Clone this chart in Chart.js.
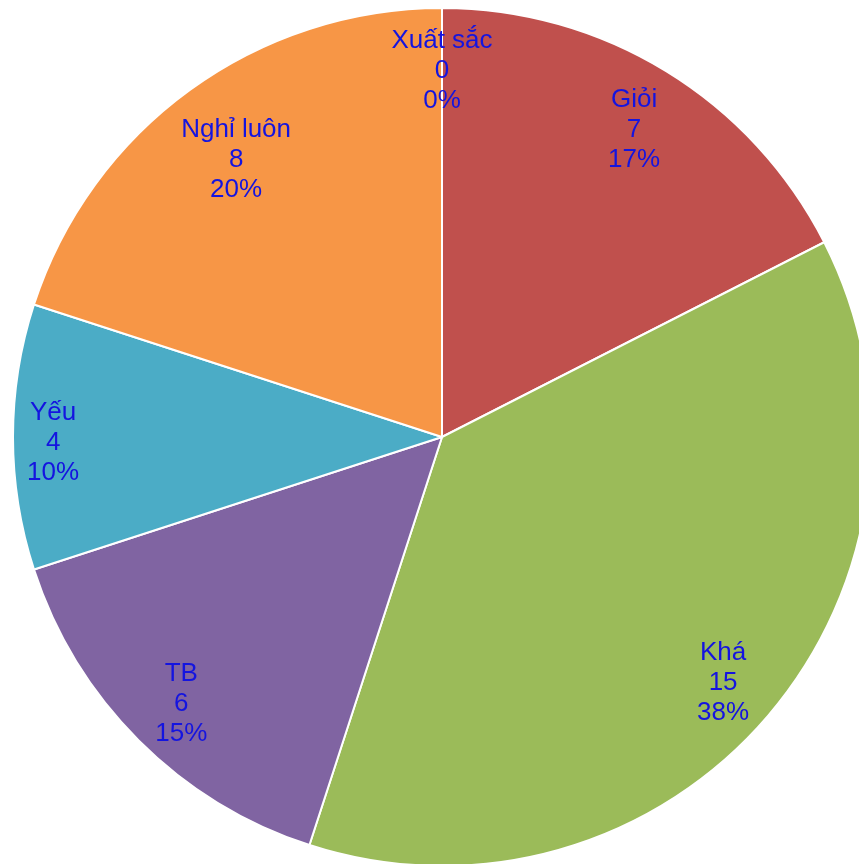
<!DOCTYPE html>
<html>
<head>
<meta charset="utf-8">
<script src="https://cdn.jsdelivr.net/npm/chart.js@4/dist/chart.umd.min.js"></script>
<style>
  html, body { margin: 0; padding: 0; background: #fff; overflow: hidden; }
  #wrap { position: absolute; left: 0; top: 0; width: 884px; height: 874px; }
</style>
</head>
<body>
<div id="wrap"><canvas id="pieChart"></canvas></div>
<script>
const categories = ["Xuất sắc", "Giỏi", "Khá", "TB", "Yếu", "Nghỉ luôn"];
const counts = [0, 7, 15, 6, 4, 8];
const sliceColors = ["#4F81BD", "#C0504D", "#9BBB59", "#8064A2", "#4BACC6", "#F79646"];

const labelFont = "26px 'Liberation Sans', Arial, sans-serif";
const lineHeight = 30;

// percent like Excel shows it (7/40 -> 17%, 15/40 -> 38%)
function percentOf(v, total) {
  return Math.round(parseFloat((v / total).toFixed(2)) * 100) + "%";
}

// labels placed "inside end": as far out on the mid angle as the text box fits
const insideLabels = {
  id: "insideLabels",
  afterDatasetsDraw(chart) {
    const ctx = chart.ctx;
    const meta = chart.getDatasetMeta(0);
    const total = counts.reduce((a, b) => a + b, 0);
    ctx.save();
    ctx.font = labelFont;
    ctx.fillStyle = "#1414E0";
    ctx.textAlign = "center";
    ctx.textBaseline = "middle";
    meta.data.forEach((arc, i) => {
      const p = arc.getProps(["x", "y", "startAngle", "endAngle", "outerRadius"], true);
      const lines = [categories[i], String(counts[i]), percentOf(counts[i], total)];
      let w = 0;
      lines.forEach((t) => { w = Math.max(w, ctx.measureText(t).width); });
      const halfW = w / 2;
      const halfH = 42;
      const mid = (p.startAngle + p.endAngle) / 2;
      const ux = Math.cos(mid);
      const uy = Math.sin(mid);
      const cx = (ux >= 0 ? 1 : -1) * halfW;
      const cy = (uy >= 0 ? 1 : -1) * halfH;
      const R = p.outerRadius - 12;
      const b = ux * cx + uy * cy;
      const d = -b + Math.sqrt(b * b - (cx * cx + cy * cy - R * R));
      const lx = p.x + ux * d;
      const ly = p.y + uy * d + 6;
      lines.forEach((t, k) => {
        ctx.fillText(t, lx, ly + (k - 1) * lineHeight);
      });
    });
    ctx.restore();
  }
};

const ctx = document.getElementById("pieChart").getContext("2d");
const pieChart = new Chart(ctx, {
  type: "pie",
  data: {
    labels: categories,
    datasets: [
      {
        data: counts,
        backgroundColor: sliceColors,
        borderColor: "#ffffff",
        borderWidth: 2,
      },
    ],
  },
  options: {
    responsive: true,
    maintainAspectRatio: false,
    animation: false,
    layout: { padding: 7 },
    plugins: {
      legend: { display: false },
      tooltip: { enabled: false },
    },
  },
  plugins: [insideLabels],
});
</script>
</body>
</html>
